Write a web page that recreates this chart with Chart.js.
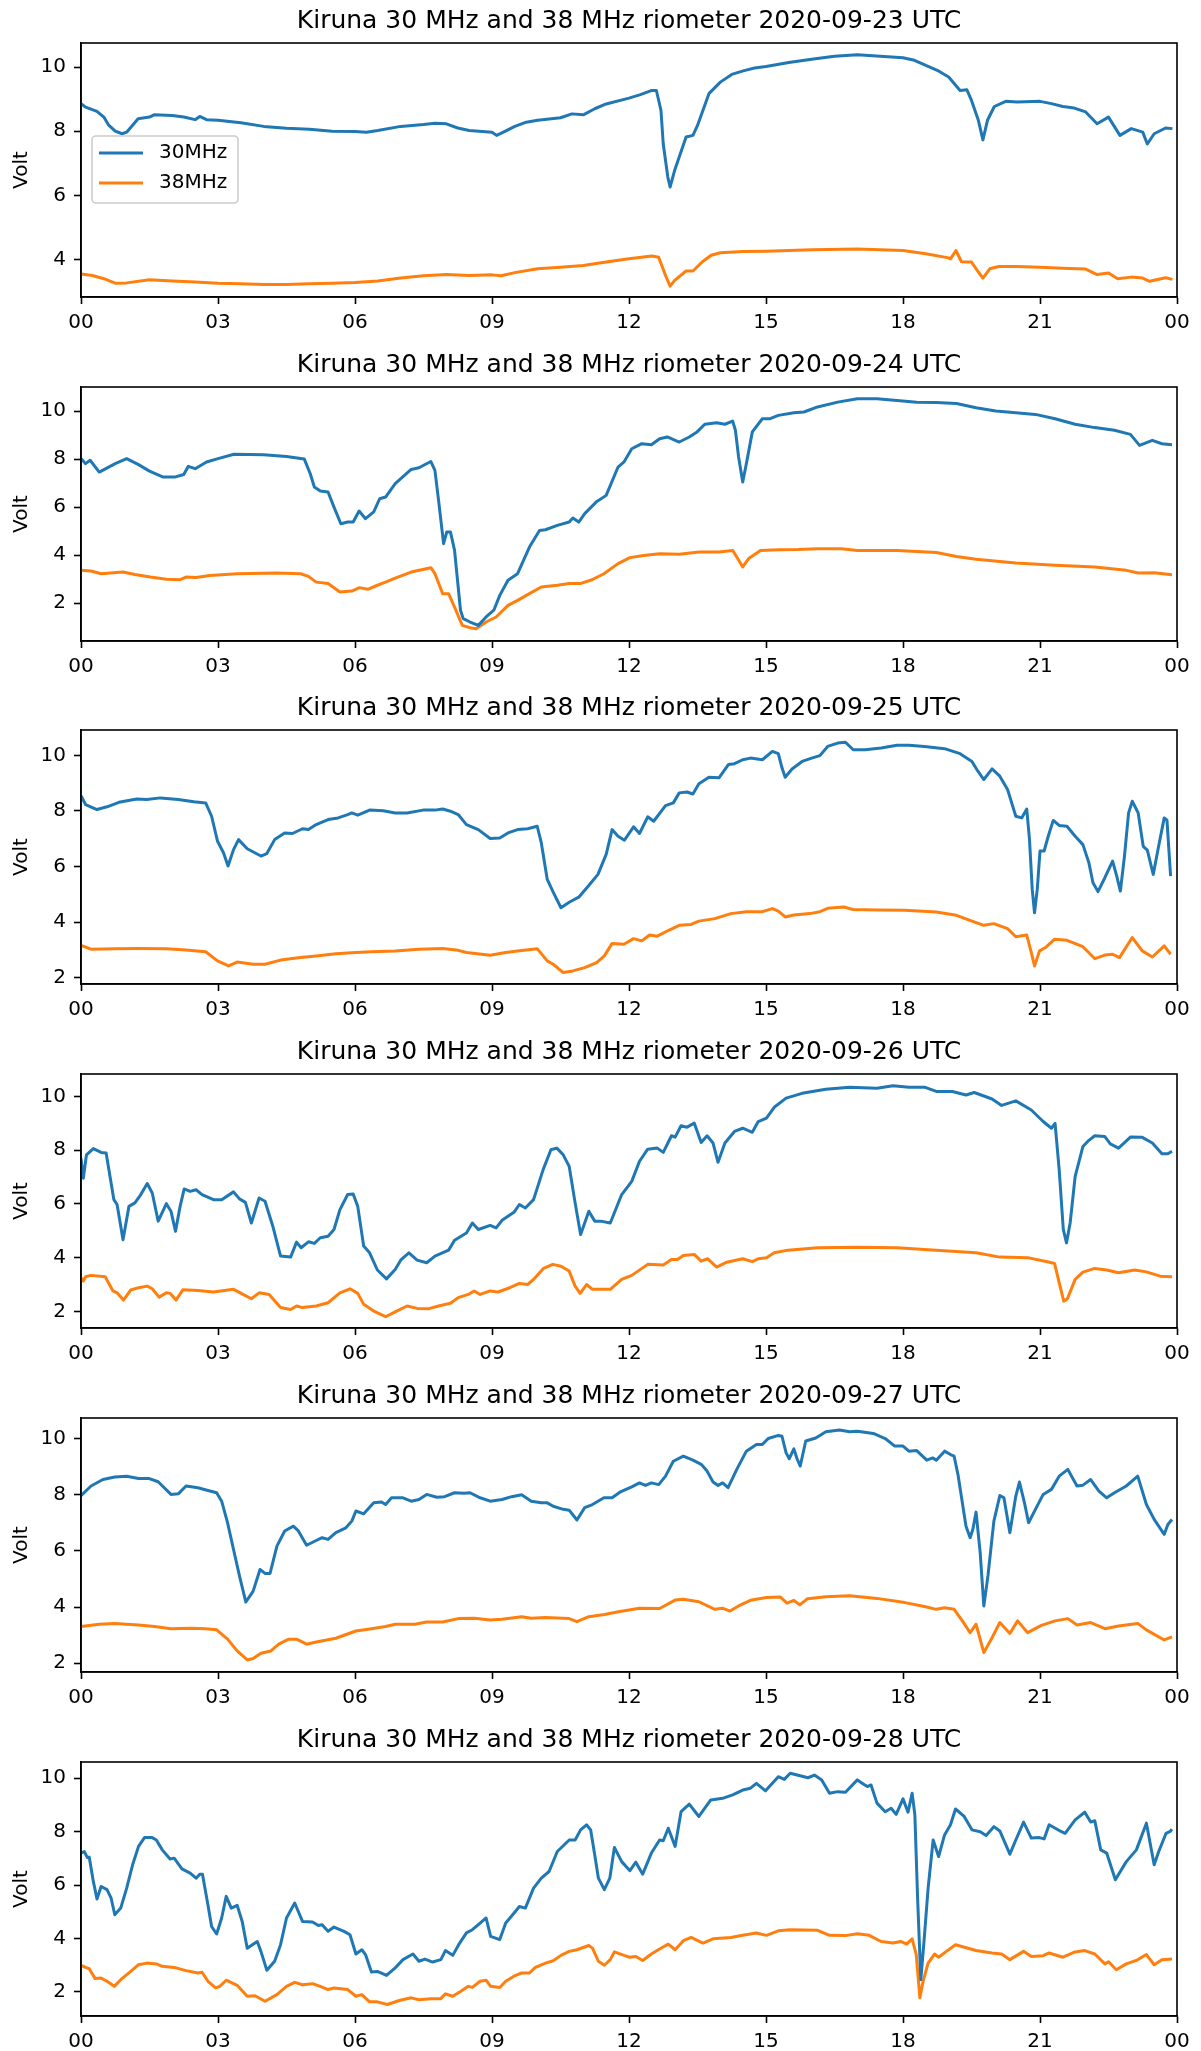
<!DOCTYPE html>
<html>
<head>
<meta charset="utf-8">
<script src="https://cdn.jsdelivr.net/npm/chart.js@4.4.1/dist/chart.umd.min.js"></script>
<style>
  html, body { margin: 0; padding: 0; background: #fff; overflow: hidden; }
  #page { position: relative; width: 1201px; height: 2051px; }
  #page canvas { position: absolute; left: 0; }
</style>
</head>
<body>
<div id="page"></div>
<script>
// one panel per day, values are [hour UTC, volt]
const DAYS = ["2020-09-23", "2020-09-24", "2020-09-25", "2020-09-26", "2020-09-27", "2020-09-28"];
const SERIES_LABELS = ["30MHz", "38MHz"];
const HOUR_LABELS = ["00", "03", "06", "09", "12", "15", "18", "21", "00"];
const VOLT_TICKS = [2, 4, 6, 8, 10];

const D23_30 = [[0,8.86],[0.1,8.75],[0.35,8.62],[0.5,8.44],[0.6,8.2],[0.75,8.0],[0.9,7.92],[1.0,7.97],[1.25,8.39],[1.5,8.44],[1.6,8.51],[2.0,8.49],[2.25,8.44],[2.5,8.36],[2.6,8.46],[2.75,8.36],[3,8.34],[3.5,8.26],[4,8.15],[4.5,8.09],[5,8.06],[5.5,8.0],[6,7.99],[6.25,7.97],[6.5,8.02],[7,8.15],[7.5,8.21],[7.75,8.25],[8,8.23],[8.25,8.1],[8.5,8.02],[9,7.97],[9.1,7.87],[9.25,7.97],[9.5,8.15],[9.75,8.28],[10,8.34],[10.5,8.42],[10.75,8.54],[11,8.51],[11.25,8.7],[11.5,8.85],[12,9.03],[12.25,9.14],[12.5,9.27],[12.6,9.27],[12.7,8.65],[12.75,7.6],[12.85,6.57],[12.9,6.26],[13.0,6.78],[13.25,7.82],[13.4,7.87],[13.5,8.18],[13.75,9.17],[14,9.53],[14.25,9.77],[14.5,9.88],[14.75,9.97],[15,10.02],[15.5,10.14],[16,10.24],[16.5,10.34],[17,10.38],[17.5,10.34],[18,10.29],[18.25,10.21],[18.5,10.05],[18.75,9.9],[19,9.69],[19.25,9.27],[19.4,9.29],[19.5,8.96],[19.65,8.34],[19.75,7.73],[19.85,8.34],[20,8.77],[20.25,8.93],[20.5,8.91],[21,8.93],[21.25,8.86],[21.5,8.77],[21.75,8.72],[22,8.6],[22.25,8.23],[22.5,8.44],[22.75,7.87],[23,8.08],[23.25,7.97],[23.35,7.6],[23.5,7.92],[23.75,8.1],[23.9,8.08]];
const D23_38 = [[0,3.55],[0.25,3.5],[0.5,3.4],[0.75,3.26],[1,3.27],[1.5,3.37],[2,3.33],[2.5,3.3],[3,3.26],[3.5,3.24],[4,3.22],[4.5,3.22],[5,3.24],[5.5,3.26],[6,3.28],[6.5,3.33],[7,3.42],[7.5,3.49],[8,3.53],[8.5,3.5],[9,3.52],[9.2,3.49],[9.5,3.59],[10,3.71],[10.5,3.76],[11,3.81],[11.5,3.92],[12,4.02],[12.5,4.11],[12.65,4.07],[12.8,3.5],[12.9,3.17],[13,3.35],[13.25,3.64],[13.4,3.64],[13.6,3.92],[13.8,4.13],[14,4.21],[14.5,4.25],[15,4.26],[16,4.3],[17,4.33],[18,4.28],[18.5,4.18],[19,4.05],[19.04,4.02],[19.16,4.28],[19.28,3.93],[19.5,3.92],[19.65,3.61],[19.75,3.42],[19.9,3.71],[20.1,3.78],[20.5,3.78],[21,3.76],[21.5,3.73],[22,3.7],[22.25,3.53],[22.5,3.58],[22.7,3.4],[23,3.45],[23.25,3.42],[23.4,3.32],[23.75,3.43],[23.9,3.38]];

const D24_30 = [[0,8.02],[0.1,7.81],[0.2,7.95],[0.4,7.46],[0.75,7.81],[1,8.02],[1.25,7.78],[1.5,7.5],[1.8,7.25],[2.05,7.25],[2.25,7.36],[2.35,7.7],[2.5,7.6],[2.75,7.88],[3,8.02],[3.35,8.2],[4,8.18],[4.5,8.11],[4.89,8.0],[5.02,7.39],[5.11,6.84],[5.24,6.67],[5.41,6.63],[5.54,6.0],[5.69,5.31],[5.84,5.38],[5.96,5.38],[6.09,5.84],[6.23,5.52],[6.41,5.8],[6.54,6.35],[6.67,6.42],[6.88,6.98],[7.23,7.57],[7.4,7.64],[7.66,7.9],[7.75,7.53],[7.83,6.28],[7.94,4.48],[8.01,4.97],[8.09,4.97],[8.18,4.2],[8.31,1.71],[8.37,1.36],[8.52,1.22],[8.7,1.08],[8.87,1.43],[9.04,1.71],[9.17,2.33],[9.35,2.96],[9.56,3.23],[9.82,4.34],[10.04,5.03],[10.17,5.06],[10.43,5.24],[10.69,5.38],[10.77,5.55],[10.9,5.38],[11.03,5.73],[11.28,6.21],[11.5,6.49],[11.76,7.67],[11.89,7.88],[12.06,8.43],[12.28,8.64],[12.49,8.6],[12.67,8.85],[12.84,8.92],[13.1,8.71],[13.32,8.92],[13.49,9.13],[13.66,9.45],[13.92,9.51],[14.1,9.45],[14.27,9.58],[14.33,9.2],[14.4,8.09],[14.49,7.05],[14.57,7.81],[14.7,9.13],[14.92,9.68],[15.09,9.68],[15.27,9.82],[15.61,9.93],[15.83,9.96],[16.13,10.17],[16.57,10.37],[17,10.51],[17.43,10.51],[17.87,10.44],[18.3,10.37],[18.73,10.35],[19.17,10.31],[19.6,10.14],[20.03,10.0],[20.47,9.93],[20.9,9.86],[21.33,9.68],[21.77,9.45],[22.2,9.31],[22.63,9.2],[22.98,9.03],[23.18,8.57],[23.46,8.78],[23.67,8.64],[23.89,8.6]];
const D24_38 = [[0,3.37],[0.22,3.34],[0.44,3.23],[0.92,3.3],[1.18,3.2],[1.52,3.09],[1.87,3.0],[2.17,2.98],[2.3,3.09],[2.52,3.07],[2.82,3.16],[3.42,3.23],[4.29,3.26],[4.81,3.23],[4.98,3.12],[5.15,2.88],[5.41,2.82],[5.67,2.47],[5.93,2.51],[6.1,2.65],[6.28,2.58],[6.49,2.75],[6.67,2.88],[6.88,3.05],[7.23,3.3],[7.66,3.48],[7.75,3.23],[7.92,2.4],[8.05,2.4],[8.18,1.84],[8.35,1.08],[8.52,0.98],[8.65,0.94],[8.87,1.22],[9.09,1.43],[9.35,1.91],[9.56,2.12],[9.82,2.4],[10.08,2.68],[10.43,2.75],[10.69,2.82],[10.93,2.82],[11.19,2.98],[11.45,3.23],[11.76,3.65],[12.02,3.9],[12.32,3.99],[12.67,4.06],[13.1,4.04],[13.53,4.13],[13.97,4.13],[14.27,4.2],[14.38,3.86],[14.49,3.51],[14.62,3.86],[14.88,4.2],[15.27,4.23],[15.7,4.24],[16.13,4.27],[16.65,4.27],[17,4.2],[17.87,4.2],[18.73,4.11],[19.17,3.95],[19.6,3.83],[20.47,3.68],[21.33,3.58],[22.2,3.51],[22.89,3.37],[23.15,3.26],[23.5,3.27],[23.89,3.19]];

const D25_30 = [[0,8.55],[0.1,8.23],[0.35,8.05],[0.57,8.15],[0.83,8.31],[1.22,8.43],[1.44,8.41],[1.74,8.47],[2.13,8.41],[2.47,8.33],[2.73,8.29],[2.86,7.81],[2.99,6.91],[3.12,6.5],[3.22,6.02],[3.34,6.61],[3.45,6.97],[3.64,6.64],[3.94,6.38],[4.07,6.47],[4.24,6.97],[4.46,7.21],[4.63,7.19],[4.85,7.36],[4.98,7.33],[5.15,7.51],[5.41,7.69],[5.63,7.75],[5.84,7.87],[5.93,7.93],[6.06,7.85],[6.32,8.03],[6.62,8.01],[6.88,7.93],[7.14,7.93],[7.49,8.03],[7.75,8.03],[7.92,8.07],[8.09,7.99],[8.26,7.87],[8.44,7.51],[8.7,7.33],[8.96,7.01],[9.17,7.03],[9.35,7.21],[9.56,7.33],[9.78,7.36],[9.99,7.45],[10.08,6.85],[10.21,5.54],[10.34,5.08],[10.51,4.52],[10.69,4.72],[10.9,4.9],[11.11,5.3],[11.32,5.72],[11.5,6.44],[11.63,7.33],[11.76,7.09],[11.9,6.95],[12.1,7.43],[12.23,7.19],[12.41,7.79],[12.54,7.63],[12.8,8.19],[12.97,8.29],[13.1,8.65],[13.27,8.68],[13.4,8.61],[13.53,8.98],[13.75,9.21],[13.97,9.19],[14.18,9.67],[14.31,9.7],[14.49,9.84],[14.66,9.9],[14.92,9.84],[15.14,10.14],[15.27,10.06],[15.35,9.55],[15.42,9.21],[15.57,9.51],[15.79,9.78],[16.0,9.9],[16.18,9.99],[16.35,10.32],[16.57,10.44],[16.74,10.47],[16.91,10.2],[17.17,10.2],[17.52,10.26],[17.87,10.36],[18.13,10.36],[18.47,10.32],[18.91,10.24],[19.25,10.06],[19.51,9.78],[19.64,9.43],[19.77,9.13],[19.95,9.51],[20.12,9.25],[20.29,8.77],[20.38,8.29],[20.47,7.81],[20.6,7.75],[20.71,8.07],[20.77,6.97],[20.83,5.18],[20.88,4.34],[20.94,5.18],[21.0,6.56],[21.09,6.56],[21.18,7.09],[21.29,7.66],[21.42,7.48],[21.59,7.45],[21.77,7.09],[21.94,6.79],[22.07,6.14],[22.16,5.42],[22.27,5.1],[22.42,5.6],[22.59,6.2],[22.68,5.66],[22.76,5.12],[22.85,6.38],[22.94,7.93],[23.02,8.35],[23.15,7.93],[23.26,6.73],[23.35,6.59],[23.48,5.72],[23.59,6.67],[23.72,7.75],[23.78,7.67],[23.86,5.66]];
const D25_38 = [[0,3.17],[0.22,3.03],[0.74,3.05],[1.26,3.06],[1.87,3.05],[2.3,3.0],[2.73,2.94],[2.99,2.61],[3.23,2.43],[3.42,2.57],[3.77,2.49],[4.03,2.49],[4.37,2.64],[4.81,2.73],[5.15,2.79],[5.58,2.87],[6.02,2.91],[6.36,2.94],[6.88,2.97],[7.4,3.03],[7.92,3.06],[8.26,2.99],[8.44,2.91],[8.96,2.81],[9.3,2.91],[9.56,2.97],[9.99,3.05],[10.21,2.61],[10.34,2.49],[10.56,2.19],[10.77,2.25],[11.03,2.37],[11.29,2.55],[11.46,2.79],[11.63,3.24],[11.89,3.21],[12.1,3.41],[12.28,3.33],[12.45,3.54],[12.62,3.5],[12.88,3.72],[13.1,3.89],[13.36,3.92],[13.53,4.04],[13.88,4.13],[14.23,4.31],[14.57,4.38],[14.92,4.38],[15.14,4.49],[15.27,4.4],[15.42,4.19],[15.61,4.26],[15.96,4.31],[16.18,4.38],[16.35,4.5],[16.7,4.55],[16.91,4.46],[17.43,4.44],[18.04,4.43],[18.73,4.37],[19.17,4.25],[19.51,4.04],[19.77,3.89],[19.99,3.95],[20.29,3.77],[20.47,3.48],[20.71,3.54],[20.81,2.91],[20.88,2.43],[20.99,2.97],[21.12,3.09],[21.32,3.39],[21.59,3.35],[21.94,3.12],[22.2,2.69],[22.42,2.82],[22.59,2.85],[22.74,2.73],[23.02,3.45],[23.24,2.97],[23.46,2.75],[23.72,3.15],[23.86,2.85]];

const D26_30 = [[0,7.7],[0.05,6.96],[0.12,7.83],[0.27,8.06],[0.44,7.92],[0.55,7.9],[0.61,7.28],[0.72,6.16],[0.79,5.98],[0.92,4.67],[1.05,5.91],[1.18,6.04],[1.31,6.35],[1.45,6.76],[1.56,6.41],[1.69,5.36],[1.87,6.01],[1.97,5.73],[2.07,4.98],[2.17,5.91],[2.26,6.56],[2.39,6.47],[2.52,6.53],[2.65,6.35],[2.9,6.16],[3.08,6.16],[3.34,6.45],[3.47,6.19],[3.6,6.06],[3.73,5.29],[3.9,6.22],[4.03,6.1],[4.2,5.17],[4.37,4.06],[4.59,4.02],[4.72,4.58],[4.82,4.37],[4.98,4.59],[5.11,4.53],[5.24,4.74],[5.41,4.8],[5.54,5.05],[5.67,5.79],[5.84,6.35],[5.96,6.37],[6.06,5.91],[6.19,4.43],[6.32,4.18],[6.49,3.54],[6.69,3.21],[6.88,3.56],[7.01,3.93],[7.18,4.18],[7.36,3.91],[7.57,3.81],[7.75,4.06],[8.05,4.28],[8.18,4.65],[8.44,4.92],[8.57,5.29],[8.7,5.05],[8.96,5.2],[9.09,5.11],[9.22,5.39],[9.48,5.69],[9.6,5.98],[9.73,5.85],[9.91,6.16],[10.12,7.28],[10.29,8.02],[10.42,8.08],[10.56,7.83],[10.69,7.4],[10.82,6.04],[10.94,4.86],[11.03,5.29],[11.12,5.73],[11.25,5.36],[11.38,5.36],[11.59,5.29],[11.84,6.35],[12.06,6.84],[12.23,7.59],[12.41,8.04],[12.62,8.08],[12.75,7.92],[12.93,8.54],[13.01,8.49],[13.14,8.91],[13.27,8.86],[13.43,9.01],[13.58,8.29],[13.71,8.54],[13.84,8.27],[13.95,7.55],[14.1,8.27],[14.31,8.7],[14.49,8.82],[14.7,8.67],[14.83,9.07],[15.01,9.2],[15.18,9.6],[15.44,9.94],[15.79,10.12],[16.31,10.27],[16.83,10.35],[17.43,10.31],[17.78,10.4],[18.13,10.35],[18.47,10.35],[18.73,10.19],[19.08,10.19],[19.38,10.06],[19.56,10.15],[19.95,9.91],[20.16,9.67],[20.47,9.84],[20.81,9.5],[21.07,9.07],[21.25,8.82],[21.33,9.0],[21.42,7.28],[21.51,5.05],[21.58,4.55],[21.66,5.29],[21.77,7.03],[21.94,8.14],[22.07,8.37],[22.2,8.54],[22.42,8.51],[22.54,8.24],[22.72,8.08],[22.98,8.49],[23.24,8.48],[23.46,8.27],[23.67,7.87],[23.8,7.87],[23.89,7.96]];
const D26_38 = [[0,3.25],[0.05,3.13],[0.1,3.29],[0.22,3.34],[0.53,3.29],[0.7,2.76],[0.79,2.69],[0.93,2.42],[1.09,2.8],[1.26,2.88],[1.45,2.94],[1.56,2.84],[1.71,2.53],[1.87,2.69],[1.95,2.67],[2.08,2.42],[2.23,2.8],[2.56,2.78],[2.9,2.72],[3.34,2.82],[3.55,2.63],[3.73,2.47],[3.9,2.69],[4.12,2.63],[4.37,2.14],[4.59,2.07],[4.72,2.2],[4.85,2.14],[5.15,2.2],[5.41,2.32],[5.67,2.69],[5.89,2.84],[6.06,2.67],[6.19,2.26],[6.41,2.01],[6.67,1.8],[6.88,1.98],[7.14,2.2],[7.36,2.11],[7.62,2.1],[7.83,2.2],[8.09,2.3],[8.26,2.51],[8.48,2.63],[8.61,2.76],[8.74,2.63],[8.96,2.76],[9.13,2.72],[9.39,2.88],[9.6,3.04],[9.78,3.0],[9.91,3.19],[10.12,3.59],[10.33,3.75],[10.51,3.68],[10.69,3.5],[10.82,2.94],[10.93,2.67],[11.07,3.0],[11.2,2.82],[11.59,2.82],[11.84,3.19],[12.06,3.34],[12.41,3.75],[12.75,3.73],[12.93,3.93],[13.06,3.93],[13.19,4.08],[13.43,4.12],[13.58,3.87],[13.72,3.96],[13.92,3.65],[14.14,3.83],[14.49,3.96],[14.7,3.85],[14.83,3.96],[15.01,4.0],[15.18,4.18],[15.48,4.28],[16.13,4.37],[17.0,4.39],[17.87,4.37],[18.73,4.28],[19.6,4.18],[20.12,4.02],[20.73,4.0],[21.16,3.85],[21.32,3.78],[21.42,3.07],[21.52,2.38],[21.6,2.47],[21.77,3.19],[21.94,3.46],[22.2,3.6],[22.46,3.54],[22.72,3.44],[23.07,3.54],[23.33,3.47],[23.63,3.31],[23.89,3.29]];

const D27_30 = [[0,7.97],[0.22,8.31],[0.48,8.54],[0.74,8.63],[1.0,8.66],[1.26,8.58],[1.48,8.58],[1.69,8.46],[1.97,8.01],[2.13,8.03],[2.3,8.31],[2.56,8.25],[2.78,8.15],[2.97,8.07],[3.08,7.77],[3.21,7.0],[3.34,6.05],[3.47,5.11],[3.61,4.18],[3.77,4.57],[3.92,5.34],[4.03,5.2],[4.14,5.2],[4.29,6.17],[4.46,6.71],[4.65,6.88],[4.76,6.71],[4.94,6.2],[5.15,6.37],[5.28,6.47],[5.41,6.41],[5.58,6.65],[5.8,6.82],[5.93,7.06],[6.02,7.42],[6.19,7.32],[6.41,7.71],[6.58,7.74],[6.67,7.65],[6.8,7.89],[7.05,7.89],[7.23,7.77],[7.4,7.83],[7.57,8.01],[7.79,7.91],[7.96,7.93],[8.18,8.07],[8.39,8.05],[8.52,8.07],[8.74,7.89],[8.96,7.77],[9.22,7.83],[9.43,7.93],[9.65,8.0],[9.86,7.77],[10.08,7.71],[10.21,7.71],[10.34,7.59],[10.56,7.48],[10.69,7.45],[10.86,7.1],[11.03,7.54],[11.2,7.65],[11.45,7.89],[11.63,7.89],[11.8,8.09],[12.06,8.28],[12.23,8.42],[12.36,8.33],[12.49,8.42],[12.65,8.36],[12.8,8.66],[12.97,9.19],[13.19,9.37],[13.4,9.23],[13.58,9.08],[13.71,8.84],[13.84,8.45],[13.95,8.33],[14.05,8.42],[14.17,8.25],[14.36,8.9],[14.57,9.55],[14.79,9.79],[14.92,9.79],[15.05,10.0],[15.27,10.11],[15.35,10.08],[15.44,9.49],[15.51,9.28],[15.61,9.63],[15.68,9.28],[15.75,9.02],[15.87,9.91],[16.09,10.02],[16.31,10.24],[16.61,10.3],[16.83,10.24],[17.0,10.26],[17.35,10.18],[17.61,10.0],[17.82,9.73],[18.0,9.73],[18.13,9.55],[18.3,9.57],[18.52,9.23],[18.65,9.31],[18.73,9.23],[18.91,9.55],[19.04,9.43],[19.12,9.37],[19.21,8.66],[19.3,7.71],[19.38,6.88],[19.47,6.47],[19.53,6.77],[19.6,7.38],[19.69,5.94],[19.77,4.04],[19.86,5.11],[19.99,7.06],[20.12,7.97],[20.21,7.89],[20.34,6.65],[20.47,7.95],[20.55,8.45],[20.66,7.71],[20.75,7.0],[20.9,7.48],[21.07,8.01],[21.25,8.19],[21.42,8.66],[21.61,8.9],[21.81,8.31],[21.94,8.34],[22.11,8.54],[22.29,8.13],[22.46,7.89],[22.63,8.07],[22.89,8.31],[23.14,8.66],[23.33,7.65],[23.5,7.12],[23.72,6.59],[23.8,6.94],[23.89,7.12]];
const D27_38 = [[0,3.31],[0.4,3.39],[0.74,3.42],[1.26,3.36],[1.61,3.31],[1.97,3.23],[2.39,3.25],[2.73,3.23],[2.97,3.19],[3.21,2.86],[3.42,2.44],[3.64,2.12],[3.77,2.17],[3.94,2.36],[4.16,2.44],[4.33,2.68],[4.55,2.86],[4.72,2.86],[4.94,2.68],[5.15,2.76],[5.58,2.89],[6.02,3.15],[6.36,3.23],[6.67,3.31],[6.88,3.39],[7.31,3.39],[7.57,3.47],[7.92,3.47],[8.26,3.59],[8.61,3.6],[8.96,3.54],[9.22,3.57],[9.65,3.66],[9.86,3.6],[10.17,3.63],[10.69,3.59],[10.86,3.48],[11.12,3.66],[11.46,3.74],[11.8,3.84],[12.23,3.96],[12.67,3.95],[13.01,4.25],[13.19,4.28],[13.53,4.19],[13.88,3.92],[14.05,3.96],[14.21,3.86],[14.4,4.04],[14.66,4.24],[15.01,4.34],[15.31,4.36],[15.46,4.14],[15.61,4.24],[15.74,4.08],[15.91,4.3],[16.31,4.37],[16.83,4.4],[17.43,4.31],[18.04,4.16],[18.47,4.02],[18.73,3.92],[18.91,3.98],[19.12,3.92],[19.3,3.51],[19.47,3.09],[19.6,3.39],[19.77,2.38],[19.95,2.91],[20.12,3.45],[20.34,3.06],[20.51,3.51],[20.73,3.09],[21.03,3.35],[21.33,3.51],[21.61,3.59],[21.81,3.36],[22.11,3.45],[22.42,3.23],[22.72,3.33],[23.14,3.42],[23.33,3.19],[23.72,2.83],[23.89,2.94]];

const D28_30 = [[0,7.2],[0.07,7.26],[0.14,7.03],[0.18,7.05],[0.27,6.14],[0.35,5.48],[0.44,5.95],[0.57,5.83],[0.66,5.51],[0.74,4.89],[0.87,5.14],[1.0,5.89],[1.13,6.76],[1.26,7.45],[1.39,7.78],[1.56,7.78],[1.65,7.69],[1.78,7.32],[1.95,6.98],[2.04,7.01],[2.21,6.61],[2.39,6.45],[2.52,6.26],[2.6,6.41],[2.66,6.41],[2.78,5.26],[2.86,4.45],[2.97,4.17],[3.08,4.77],[3.18,5.58],[3.29,5.14],[3.42,5.24],[3.53,4.64],[3.64,3.64],[3.77,3.79],[3.86,3.89],[3.94,3.52],[4.07,2.81],[4.24,3.15],[4.37,3.77],[4.5,4.77],[4.68,5.33],[4.85,4.64],[5.07,4.62],[5.2,4.49],[5.28,4.52],[5.41,4.27],[5.54,4.43],[5.76,4.27],[5.89,4.14],[6.02,3.42],[6.15,3.58],[6.23,3.4],[6.36,2.75],[6.49,2.77],[6.69,2.62],[6.88,2.9],[7.05,3.21],[7.27,3.42],[7.4,3.15],[7.53,3.23],[7.7,3.12],[7.88,3.21],[7.98,3.55],[8.14,3.37],[8.27,3.77],[8.44,4.21],[8.57,4.33],[8.74,4.58],[8.87,4.77],[8.97,4.08],[9.17,3.96],[9.3,4.58],[9.48,4.95],[9.6,5.2],[9.73,5.14],[9.91,5.89],[10.08,6.26],[10.25,6.51],[10.43,7.26],[10.69,7.69],[10.82,7.69],[10.94,8.07],[11.07,8.26],[11.16,8.07],[11.25,7.13],[11.33,6.26],[11.46,5.83],[11.58,6.26],[11.68,7.41],[11.84,6.88],[12.02,6.54],[12.15,6.86],[12.3,6.41],[12.49,7.2],[12.67,7.69],[12.75,7.66],[12.86,8.13],[13.01,7.45],[13.14,8.75],[13.32,9.03],[13.53,8.57],[13.79,9.19],[14.05,9.25],[14.27,9.38],[14.49,9.56],[14.66,9.63],[14.79,9.81],[14.99,9.53],[15.27,10.06],[15.4,9.96],[15.53,10.19],[15.92,10.02],[16.06,10.12],[16.22,9.94],[16.39,9.44],[16.57,9.5],[16.74,9.48],[17.0,9.94],[17.13,9.79],[17.22,9.69],[17.3,9.75],[17.43,9.07],[17.61,8.75],[17.74,8.88],[17.85,8.65],[18.0,9.23],[18.11,8.73],[18.2,9.44],[18.26,8.63],[18.32,5.51],[18.39,2.46],[18.46,3.89],[18.55,5.89],[18.66,7.69],[18.78,7.07],[18.91,7.88],[19.04,8.26],[19.15,8.85],[19.34,8.57],[19.51,8.07],[19.69,8.0],[19.82,7.86],[19.99,8.19],[20.12,8.03],[20.34,7.16],[20.47,7.69],[20.64,8.36],[20.81,7.76],[20.99,7.78],[21.09,7.73],[21.2,8.26],[21.46,8.01],[21.55,7.94],[21.77,8.44],[21.98,8.73],[22.11,8.36],[22.2,8.41],[22.33,7.32],[22.46,7.2],[22.65,6.2],[22.89,6.88],[23.11,7.32],[23.33,8.32],[23.5,6.76],[23.6,7.26],[23.76,7.94],[23.85,8.01],[23.89,8.09]];
const D28_38 = [[0,3.0],[0.1,2.92],[0.18,2.87],[0.31,2.5],[0.44,2.52],[0.57,2.4],[0.73,2.21],[0.87,2.46],[1.09,2.77],[1.26,3.02],[1.44,3.08],[1.65,3.05],[1.78,2.96],[2.04,2.92],[2.3,2.8],[2.56,2.71],[2.65,2.74],[2.78,2.4],[2.95,2.15],[3.04,2.21],[3.18,2.44],[3.42,2.25],[3.64,1.84],[3.81,1.86],[4.03,1.65],[4.29,1.9],[4.5,2.21],[4.68,2.36],[4.85,2.27],[5.07,2.31],[5.24,2.21],[5.41,2.09],[5.54,2.15],[5.84,2.09],[6.02,1.84],[6.15,1.9],[6.32,1.63],[6.49,1.63],[6.71,1.53],[6.97,1.68],[7.23,1.78],[7.4,1.71],[7.66,1.75],[7.88,1.75],[7.98,1.93],[8.14,1.84],[8.31,2.02],[8.48,2.21],[8.57,2.17],[8.74,2.4],[8.87,2.44],[8.97,2.21],[9.17,2.17],[9.3,2.4],[9.48,2.59],[9.65,2.71],[9.82,2.71],[9.95,2.92],[10.17,3.08],[10.34,3.17],[10.51,3.37],[10.69,3.52],[10.86,3.58],[11.12,3.74],[11.2,3.64],[11.33,3.15],[11.46,3.0],[11.59,3.21],[11.68,3.5],[11.89,3.37],[12.02,3.3],[12.15,3.33],[12.3,3.18],[12.49,3.42],[12.67,3.61],[12.86,3.79],[13.01,3.58],[13.19,3.92],[13.36,4.04],[13.62,3.83],[13.84,3.99],[14.23,4.04],[14.49,4.12],[14.79,4.21],[15.01,4.12],[15.27,4.29],[15.53,4.33],[16.13,4.31],[16.39,4.12],[16.74,4.11],[17.0,4.18],[17.26,4.12],[17.52,3.89],[17.78,3.83],[17.95,3.89],[18.08,3.79],[18.2,3.99],[18.29,3.4],[18.37,1.78],[18.44,2.4],[18.55,3.08],[18.69,3.42],[18.78,3.3],[18.95,3.52],[19.15,3.77],[19.6,3.55],[19.95,3.46],[20.16,3.42],[20.34,3.21],[20.64,3.52],[20.81,3.33],[21.07,3.36],[21.2,3.46],[21.5,3.3],[21.77,3.5],[21.98,3.55],[22.2,3.42],[22.42,3.05],[22.5,3.13],[22.67,2.83],[22.89,3.05],[23.11,3.18],[23.33,3.4],[23.5,3.02],[23.67,3.21],[23.89,3.23]];

const SERIES = [
    [D23_30, D23_38],
    [D24_30, D24_38],
    [D25_30, D25_38],
    [D26_30, D26_38],
    [D27_30, D27_38],
    [D28_30, D28_38],
];

// axis limits of each panel (matplotlib autoscale with margins)
const Y_LIMITS = [[2.83, 10.75], [0.43, 11.0], [1.78, 10.91], [1.38, 10.84], [1.69, 10.73], [1.10, 10.61]];

const COLORS = ["#1f77b4", "#ff7f0e"];
const PANEL_TOPS = [3, 347, 690, 1034, 1378, 1722];
const PANEL_H = 344;
const AREA_TOP = 40;
const AREA_BOTTOM = 294;

Chart.defaults.font.family = '"DejaVu Sans", sans-serif';
Chart.defaults.color = "#000";

const toPoints = (pairs) => pairs.map(([h, v]) => ({ x: h, y: v }));

// top and right spines, like a matplotlib axes box
const framePlugin = {
    id: "frame",
    afterDatasetsDraw(chart) {
        const { ctx, chartArea: a } = chart;
        ctx.save();
        ctx.strokeStyle = "#000";
        ctx.lineWidth = 1.6;
        ctx.strokeRect(a.left, a.top, a.right - a.left, a.bottom - a.top);
        ctx.restore();
    },
};

// legend box drawn inside the axes, only on the first panel
const boxLegend = {
    id: "boxLegend",
    afterDraw(chart, args, opts) {
        if (!opts.show) return;
        const { ctx, chartArea: a } = chart;
        const x = a.left + 11, y = a.top + 93, w = 146, h = 67;
        ctx.save();
        ctx.beginPath();
        ctx.roundRect(x, y, w, h, 4);
        ctx.fillStyle = "rgba(255,255,255,0.8)";
        ctx.fill();
        ctx.strokeStyle = "#cccccc";
        ctx.lineWidth = 1.6;
        ctx.stroke();
        chart.data.datasets.forEach((ds, i) => {
            const ry = y + 17 + i * 30;
            ctx.strokeStyle = ds.borderColor;
            ctx.lineWidth = ds.borderWidth;
            ctx.beginPath();
            ctx.moveTo(x + 7, ry);
            ctx.lineTo(x + 51, ry);
            ctx.stroke();
            ctx.fillStyle = "#000";
            ctx.font = '20px "DejaVu Sans"';
            ctx.textBaseline = "middle";
            ctx.fillText(ds.label, x + 67, ry);
        });
        ctx.restore();
    },
};

const page = document.getElementById("page");

DAYS.forEach((day, k) => {
    const canvasH = Math.min(PANEL_H, 2051 - PANEL_TOPS[k]);
    const canvas = document.createElement("canvas");
    canvas.width = 1201;
    canvas.height = canvasH;
    canvas.style.top = PANEL_TOPS[k] + "px";
    page.appendChild(canvas);

    const [min, max] = Y_LIMITS[k];
    new Chart(canvas, {
        type: "line",
        data: {
            datasets: SERIES[k].map((s, i) => ({
                label: SERIES_LABELS[i],
                data: toPoints(s),
                borderColor: COLORS[i],
                backgroundColor: COLORS[i],
                borderWidth: 3,
                pointRadius: 0,
                tension: 0,
                borderJoinStyle: "round",
            })),
        },
        options: {
            responsive: false,
            animation: false,
            devicePixelRatio: 1,
            events: [],
            layout: { padding: { left: 0, right: 24, top: 0, bottom: 0 } },
            plugins: {
                legend: { display: false },
                tooltip: { enabled: false },
                title: {
                    display: true,
                    fullSize: false,
                    text: `Kiruna 30 MHz and 38 MHz riometer ${day} UTC`,
                    color: "#000",
                    font: { size: 25, weight: "normal" },
                    padding: { top: 3.3, bottom: 6.7 },
                },
                boxLegend: { show: k === 0 },
            },
            scales: {
                x: {
                    type: "linear",
                    min: 0,
                    max: 24,
                    border: { color: "#000", width: 1.6 },
                    grid: { drawOnChartArea: false, drawTicks: true, tickLength: 7, tickWidth: 1.6, tickColor: "#000", color: "#000" },
                    ticks: {
                        stepSize: 3,
                        padding: 7,
                        color: "#000",
                        font: { size: 20 },
                        maxRotation: 0,
                        autoSkip: false,
                        includeBounds: false,
                        callback: (v) => HOUR_LABELS[Math.round(v / 3)],
                    },
                    afterFit: (s) => { s.height = canvasH - AREA_BOTTOM; },
                },
                y: {
                    min,
                    max,
                    border: { color: "#000", width: 1.6 },
                    grid: { drawOnChartArea: false, drawTicks: true, tickLength: 7, tickWidth: 1.6, tickColor: "#000", color: "#000" },
                    ticks: {
                        stepSize: 2,
                        padding: 8,
                        color: "#000",
                        font: { size: 20 },
                        includeBounds: false,
                        callback: (v) => (VOLT_TICKS.includes(v) ? String(v) : ""),
                    },
                    title: {
                        display: true,
                        text: "Volt",
                        color: "#000",
                        font: { size: 20 },
                        padding: { top: 10, bottom: 0 },
                    },
                    afterFit: (s) => { s.width = 81; },
                },
            },
        },
        plugins: [framePlugin, boxLegend],
    });
});
</script>
</body>
</html>
